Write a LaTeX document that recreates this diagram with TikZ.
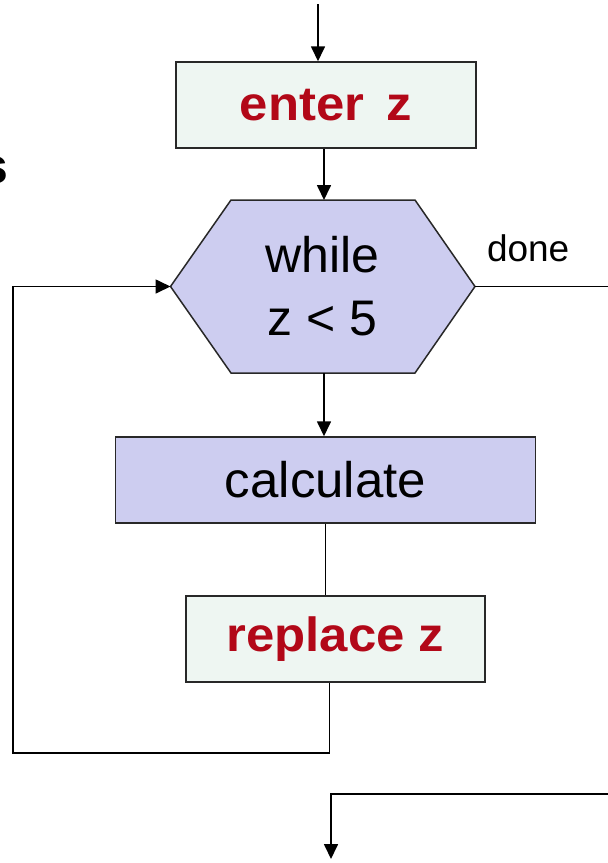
\documentclass[tikz,border=0pt]{standalone}
\usepackage{fontspec}
\usepackage{graphicx}
\setmainfont{Liberation Sans}
\usetikzlibrary{arrows.meta,backgrounds,calc}
\definecolor{boxgreen}{RGB}{238,246,242}
\definecolor{lav}{RGB}{205,205,240}
\definecolor{darkred}{RGB}{178,8,24}
\definecolor{edgegray}{RGB}{40,40,40}
\begin{document}
\begin{tikzpicture}[x=1pt,y=-1pt,
  conn/.style={line width=1.7pt, black},
  arr/.style={conn, -{Triangle[length=15pt,width=14pt]}},
  inbox/.style={draw=edgegray, line width=1.5pt, fill=boxgreen, minimum height=86pt, inner sep=0pt, text=darkred, font=\fontsize{48}{56}\selectfont\bfseries},
  procbox/.style={draw=edgegray, line width=1.5pt, fill=lav, minimum height=86pt, inner sep=0pt, font=\fontsize{50}{63}\selectfont},
  plain/.style={inner sep=0pt, outer sep=0pt}
]
\useasboundingbox (0,0) rectangle (608,863);

\node[inbox, minimum width=300pt] (enter) at (326,105) {\scalebox{1.06}[1]{enter\hspace{8pt} z}};
\node[plain, minimum width=304.5pt, minimum height=173pt, align=center, font=\fontsize{50}{63}\selectfont] (hex) at (322.75,286.5) {while\\z < 5};
\node[procbox, minimum width=420pt] (calc) at (325.6,480) {\scalebox{1.02}[1]{calculate}};
\node[inbox, minimum width=299pt] (repl) at (335.5,639) {\scalebox{1.06}[1]{replace z}};
\node[plain, anchor=base west, font=\fontsize{37}{44}\selectfont] (done) at (487,261) {done};
\node[plain, anchor=base east, font=\fontsize{50}{60}\selectfont\bfseries] (s) at (8,183) {s};

\begin{scope}[on background layer]
  \fill[white] (0,0) rectangle (608,863);
  \filldraw[draw=edgegray, line width=1.5pt, fill=lav]
    (hex.west) -- ($(hex.north west)+(60.5,0)$) -- ($(hex.north east)+(-60,0)$)
    -- (hex.east) -- ($(hex.south east)+(-60,0)$) -- ($(hex.south west)+(60.5,0)$) -- cycle;
\end{scope}

\coordinate (top) at (318,4);
\coordinate (lc) at (13,753);
\coordinate (doneend) at (608,286.5);
\coordinate (bstart) at (608,794);
\coordinate (bend) at (331,859);

\draw[arr] (top) -- (top |- enter.north);
\draw[arr] ([xshift=-2pt]enter.south) -- ([xshift=1.25pt]hex.north);
\draw[arr] ([xshift=1.25pt]hex.south) -- ([xshift=-1.6pt]calc.north);
\draw[conn] (calc.south) -- (calc.south |- repl.north);
\draw[arr] ([xshift=-6pt]repl.south) |- (lc) |- (hex.west);
\draw[conn] (hex.east) -- (doneend);
\draw[arr] (bstart) -| (bend);
\end{tikzpicture}
\end{document}
